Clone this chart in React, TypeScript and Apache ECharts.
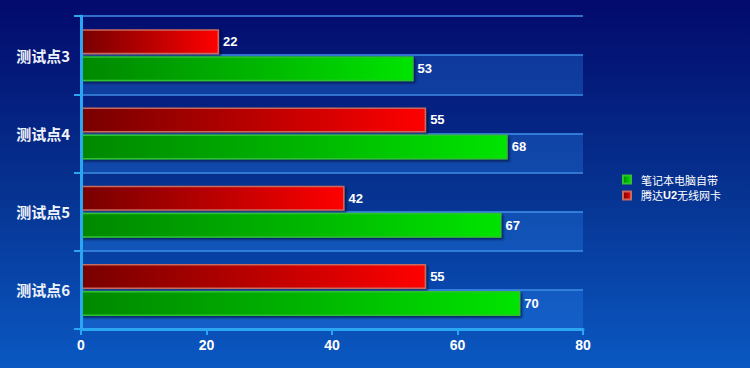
import React, { useEffect, useRef } from "react";
import * as echarts from "echarts";

const categories = ["测试点3", "测试点4", "测试点5", "测试点6"];
const seriesNames = ["腾达U2无线网卡", "笔记本电脑自带"];
const redValues = [22, 55, 42, 55];
const greenValues = [53, 68, 67, 70];
const xTicks = { min: 0, max: 80, interval: 20 };

const FONT = "'Liberation Sans', 'Noto Sans CJK SC', sans-serif";
const CJK = "'Noto Sans CJK SC', 'Liberation Sans', sans-serif";

export default function App() {
  const ref = useRef<HTMLDivElement>(null);
  useEffect(() => {
    if (!ref.current) return;
    const chart = echarts.init(ref.current, undefined, { renderer: "svg" });
    const axisColor = "#2aa6f2";
    const barLabel = {
      show: true,
      position: "right",
      distance: 4,
      color: "#ffffff",
      fontWeight: "bold",
      fontSize: 13,
      fontFamily: FONT,
    };
    chart.setOption({
      animation: false,
      backgroundColor: new echarts.graphic.LinearGradient(0, 0, 0, 1, [
        { offset: 0, color: "#020a6c" },
        { offset: 0.5, color: "#06318f" },
        { offset: 1, color: "#0a58c2" },
      ]),
      grid: { left: 81, right: 167, top: 16, bottom: 39, containLabel: false },
      legend: {
        orient: "vertical",
        left: 617,
        top: 169,
        itemWidth: 8,
        itemHeight: 8,
        itemGap: 5,
        icon: "rect",
        data: [seriesNames[1], seriesNames[0]],
        textStyle: {
          color: "#ffffff",
          fontSize: 11,
          fontFamily: CJK,
          padding: [0, 0, 0, 5],
          rich: {
            a: { color: "#ffffff", fontSize: 11, fontFamily: CJK },
            b: { color: "#ffffff", fontSize: 11, fontWeight: "bold", fontFamily: FONT },
          },
        },
        formatter: (name: string) => {
          if (name.indexOf("U2") >= 0) {
            const parts = name.split("U2");
            return `{a|${parts[0]}}{b|U2}{a|${parts[1]}}`;
          }
          return `{a|${name}}`;
        },
      },
      xAxis: {
        type: "value",
        min: xTicks.min,
        max: xTicks.max,
        interval: xTicks.interval,
        axisLine: { show: true, lineStyle: { color: axisColor, width: 3 } },
        axisTick: { show: true, length: 6, lineStyle: { color: axisColor, width: 2 } },
        axisLabel: {
          color: "#ffffff",
          fontWeight: "bold",
          fontSize: 14,
          fontFamily: FONT,
          margin: 9,
        },
        splitLine: { show: false },
      },
      yAxis: [
        {
          type: "category",
          data: categories,
          inverse: true,
          axisLine: { show: true, lineStyle: { color: axisColor, width: 3 } },
          axisTick: { show: true, length: 7, lineStyle: { color: axisColor, width: 2 } },
          axisLabel: {
            color: "#eef2fa",
            fontSize: 15,
            fontWeight: "bold",
            fontFamily: CJK,
            margin: 11,
          },
          splitLine: { show: false },
          z: 5,
        },
        {
          type: "value",
          min: 0,
          max: 8,
          interval: 1,
          position: "right",
          axisLine: { show: false },
          axisTick: { show: false },
          axisLabel: { show: false },
          splitLine: { show: true, lineStyle: { color: "#3f8fe8", width: 1.5 } },
          splitArea: {
            show: true,
            areaStyle: { color: ["rgba(40,130,235,0.32)", "rgba(0,0,0,0)"] },
          },
        },
      ],
      series: [
        {
          name: seriesNames[0],
          type: "bar",
          yAxisIndex: 0,
          data: redValues,
          barWidth: 25,
          barGap: "8%",
          itemStyle: {
            color: new echarts.graphic.LinearGradient(0, 0, 1, 0, [
              { offset: 0, color: "#780000" },
              { offset: 0.55, color: "#c00000" },
              { offset: 1, color: "#ff0606" },
            ]),
            borderColor: "#c96a5e",
            borderWidth: 1.5,
            shadowColor: "rgba(0,0,30,0.55)",
            shadowOffsetX: 2,
            shadowOffsetY: 2,
            shadowBlur: 2,
          },
          label: barLabel,
        },
        {
          name: seriesNames[1],
          type: "bar",
          yAxisIndex: 0,
          data: greenValues,
          barWidth: 25,
          barGap: "8%",
          itemStyle: {
            color: new echarts.graphic.LinearGradient(0, 0, 1, 0, [
              { offset: 0, color: "#008800" },
              { offset: 0.55, color: "#00b800" },
              { offset: 1, color: "#00e400" },
            ]),
            borderColor: "#2fc22f",
            borderWidth: 1.5,
            shadowColor: "rgba(0,0,30,0.55)",
            shadowOffsetX: 2,
            shadowOffsetY: 2,
            shadowBlur: 2,
          },
          label: barLabel,
        },
      ],
    });
    return () => chart.dispose();
  }, []);
  return (
    <div
      ref={ref}
      style={{ position: "fixed", left: 0, top: 0, width: 750, height: 368 }}
    />
  );
}
